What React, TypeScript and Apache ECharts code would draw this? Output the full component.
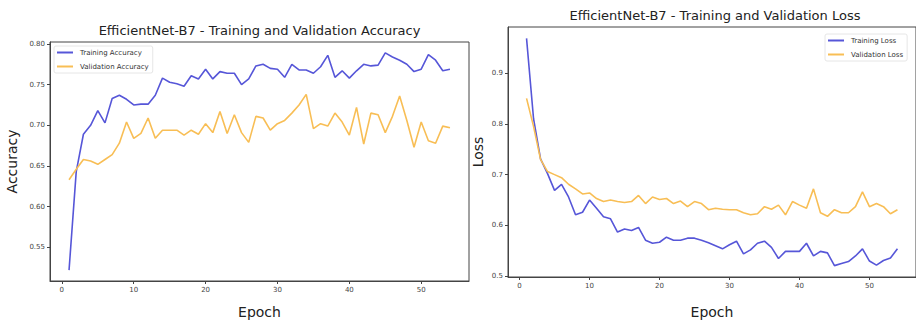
import React, { useEffect, useRef } from "react";
import * as echarts from "echarts";

const epochs = [1,2,3,4,5,6,7,8,9,10,11,12,13,14,15,16,17,18,19,20,21,22,23,24,25,26,27,28,29,30,31,32,33,34,35,36,37,38,39,40,41,42,43,44,45,46,47,48,49,50,51,52,53,54];

const trainAcc = [0.522,0.643,0.689,0.700,0.718,0.703,0.733,0.737,0.732,0.725,0.726,0.726,0.737,0.758,0.753,0.751,0.748,0.761,0.757,0.769,0.757,0.766,0.764,0.764,0.750,0.757,0.773,0.775,0.770,0.769,0.759,0.775,0.768,0.768,0.764,0.772,0.786,0.759,0.767,0.758,0.767,0.775,0.773,0.774,0.789,0.784,0.780,0.775,0.766,0.769,0.787,0.780,0.767,0.769];

const valAcc = [0.633,0.646,0.658,0.656,0.652,0.658,0.664,0.678,0.704,0.684,0.690,0.709,0.684,0.694,0.694,0.694,0.688,0.694,0.689,0.702,0.691,0.717,0.690,0.713,0.691,0.679,0.711,0.709,0.694,0.702,0.706,0.715,0.725,0.738,0.696,0.702,0.699,0.715,0.704,0.688,0.722,0.677,0.715,0.713,0.691,0.711,0.736,0.706,0.673,0.704,0.681,0.678,0.699,0.697];

const trainLoss = [0.968,0.810,0.731,0.702,0.669,0.681,0.656,0.621,0.626,0.650,0.634,0.617,0.613,0.587,0.593,0.590,0.596,0.571,0.565,0.567,0.577,0.571,0.571,0.575,0.575,0.571,0.566,0.560,0.554,0.562,0.569,0.544,0.552,0.565,0.569,0.557,0.535,0.549,0.549,0.549,0.565,0.540,0.549,0.546,0.521,0.525,0.529,0.540,0.554,0.530,0.522,0.531,0.536,0.554];

const valLoss = [0.850,0.795,0.730,0.706,0.700,0.694,0.681,0.672,0.662,0.664,0.653,0.647,0.650,0.647,0.645,0.647,0.659,0.643,0.656,0.651,0.653,0.643,0.648,0.637,0.647,0.643,0.631,0.634,0.632,0.631,0.631,0.625,0.621,0.623,0.637,0.632,0.640,0.621,0.647,0.640,0.634,0.672,0.625,0.618,0.631,0.625,0.625,0.637,0.666,0.637,0.643,0.637,0.623,0.631];

const xTicks = [0, 10, 20, 30, 40, 50];
const accTicks = [0.55, 0.6, 0.65, 0.7, 0.75, 0.8];
const lossTicks = [0.5, 0.6, 0.7, 0.8, 0.9];

const titles = [
  "EfficientNet-B7 - Training and Validation Accuracy",
  "EfficientNet-B7 - Training and Validation Loss",
];

const BLUE = "#5656d8";
const ORANGE = "#f8be55";
const FONT = "DejaVu Sans";

export default function App() {
  const ref = useRef<HTMLDivElement>(null);
  useEffect(() => {
    document.body.style.margin = "0";
    const chart = echarts.init(ref.current!, null, { renderer: "svg" });
    const pair = (arr: number[]) => epochs.map((e, i) => [e, arr[i]]);
    const xAxisBase = (gridIndex: number, gap: number) => ({
      type: "value",
      gridIndex,
      min: -1.65,
      max: 56.65,
      name: "Epoch",
      nameLocation: "middle",
      nameGap: gap,
      nameTextStyle: { fontFamily: FONT, fontSize: 14, color: "#222" },
      splitLine: { show: false },
      axisLine: { show: true, onZero: false, lineStyle: { color: "#444", width: 1 } },
      axisTick: { show: true, length: 3, customValues: xTicks, lineStyle: { color: "#444" } },
      axisLabel: {
        customValues: xTicks,
        fontFamily: FONT,
        fontSize: 7,
        color: "#444",
        margin: 5,
      },
    });
    const yAxisBase = (gridIndex: number, min: number, max: number, name: string, gap: number, ticks: number[], digits: number) => ({
      type: "value",
      gridIndex,
      min,
      max,
      name,
      nameLocation: "middle",
      nameGap: gap,
      nameTextStyle: { fontFamily: FONT, fontSize: 14, color: "#222" },
      splitLine: { show: false },
      axisLine: { show: true, onZero: false, lineStyle: { color: "#444", width: 1 } },
      axisTick: { show: true, length: 3, customValues: ticks, lineStyle: { color: "#444" } },
      axisLabel: {
        customValues: ticks,
        formatter: (v: number) => v.toFixed(digits),
        fontFamily: FONT,
        fontSize: 7,
        color: "#444",
        margin: 5,
      },
    });
    const legendBase = (data: string[], left: number, top: number) => ({
      data,
      left,
      top,
      orient: "vertical",
      itemWidth: 16,
      itemHeight: 2,
      itemGap: 7,
      icon: "rect",
      padding: [3, 4, 3, 3],
      borderColor: "#e6e6e6",
      borderWidth: 1,
      borderRadius: 2,
      backgroundColor: "rgba(255,255,255,0.8)",
      textStyle: { fontFamily: FONT, fontSize: 7, color: "#333", padding: [0, 0, 0, 2] },
    });
    const option: any = {
      animation: false,
      backgroundColor: "#fff",
      grid: [
        { left: 50, top: 42, width: 419, height: 249, show: true, borderColor: "#444", borderWidth: 1, containLabel: false },
        { left: 508, top: 27, width: 414, height: 260, show: true, borderColor: "#444", borderWidth: 1, containLabel: false },
      ],
      xAxis: [xAxisBase(0, 24), xAxisBase(1, 28)],
      yAxis: [
        yAxisBase(0, 0.5086, 0.8024, "Accuracy", 31, accTicks, 2),
        yAxisBase(1, 0.4986, 0.9904, "Loss", 23, lossTicks, 1),
      ],
      legend: [
        legendBase(["Training Accuracy", "Validation Accuracy"], 54, 46),
        legendBase(["Training Loss", "Validation Loss"], 825, 34),
      ],
      graphic: [
        {
          type: "text",
          x: 259.5,
          y: 30,
          style: { text: titles[0], fontFamily: FONT, fontSize: 13, fill: "#222", textAlign: "center", textVerticalAlign: "middle" },
        },
        {
          type: "text",
          x: 715,
          y: 15,
          style: { text: titles[1], fontFamily: FONT, fontSize: 13, fill: "#222", textAlign: "center", textVerticalAlign: "middle" },
        },
      ],
      series: [
        { name: "Training Accuracy", type: "line", xAxisIndex: 0, yAxisIndex: 0, data: pair(trainAcc), showSymbol: false, lineStyle: { color: BLUE, width: 1.6 }, itemStyle: { color: BLUE } },
        { name: "Validation Accuracy", type: "line", xAxisIndex: 0, yAxisIndex: 0, data: pair(valAcc), showSymbol: false, lineStyle: { color: ORANGE, width: 1.6 }, itemStyle: { color: ORANGE } },
        { name: "Training Loss", type: "line", xAxisIndex: 1, yAxisIndex: 1, data: pair(trainLoss), showSymbol: false, lineStyle: { color: BLUE, width: 1.6 }, itemStyle: { color: BLUE } },
        { name: "Validation Loss", type: "line", xAxisIndex: 1, yAxisIndex: 1, data: pair(valLoss), showSymbol: false, lineStyle: { color: ORANGE, width: 1.6 }, itemStyle: { color: ORANGE } },
      ],
    };
    chart.setOption(option);
    return () => chart.dispose();
  }, []);
  return <div ref={ref} style={{ width: 916, height: 324 }} />;
}
